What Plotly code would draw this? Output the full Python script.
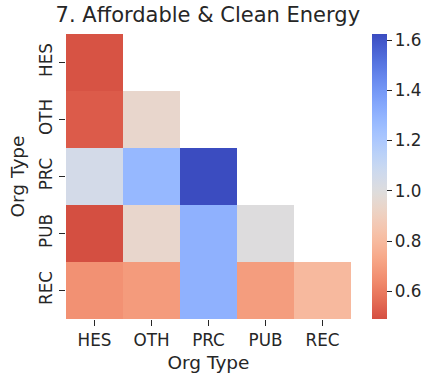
import numpy as np
import plotly.graph_objects as go

categories = ["HES", "OTH", "PRC", "PUB", "REC"]
values = [
    [0.50, None, None, None, None],
    [0.52, 0.944, None, None, None],
    [1.05, 1.28, 1.624, None, None],
    [0.49, 0.945, 1.305, 1.00, None],
    [0.662, 0.69, 1.305, 0.697, 0.797],
]
title = "7. Affordable & Clean Energy"

# matplotlib coolwarm anchors
cw = [(59,76,192),(68,90,204),(77,104,215),(87,117,225),(98,130,234),(108,142,241),
      (119,154,247),(130,165,251),(141,176,254),(152,185,255),(163,194,255),(174,201,253),
      (184,208,249),(194,213,244),(204,217,238),(213,219,230),(221,221,221),(229,216,209),
      (236,211,197),(241,204,185),(245,196,173),(247,187,160),(247,177,148),(247,166,135),
      (244,154,123),(241,141,111),(236,127,99),(229,112,88),(222,96,77),(213,80,66),
      (203,62,56),(192,40,47),(180,4,38)]
cw = np.array(cw, dtype=float)
cw_r = cw[::-1]
pos = np.linspace(0, 1, len(cw_r))

def cmap(t):
    return [np.interp(t, pos, cw_r[:, i]) for i in range(3)]

flat = [v for row in values for v in row if v is not None]
vmin, vmax, center = min(flat), max(flat), 1.0
d = max(vmax - center, center - vmin)
vs = np.linspace(vmin, vmax, 51)
scale = []
for v in vs:
    t = (v - (center - d)) / (2 * d)
    r, g, b = cmap(t)
    scale.append([(v - vmin) / (vmax - vmin), f"rgb({int(round(r))},{int(round(g))},{int(round(b))})"])

TXT = "#262626"
FS = 16.8

fig = go.Figure(go.Heatmap(
    z=values, x=categories, y=categories,
    colorscale=scale, zmin=vmin, zmax=vmax,
    hoverongaps=False, xgap=0, ygap=0,
    colorbar=dict(
        x=1.0737, xanchor="left", xpad=0, y=0.5, yanchor="middle", ypad=0,
        len=1, lenmode="fraction", thickness=15, outlinewidth=0,
        tickvals=[0.6, 0.8, 1.0, 1.2, 1.4, 1.6], ticktext=["0.6", "0.8", "1.0", "1.2", "1.4", "1.6"],
        ticks="outside", ticklen=5, tickwidth=1.3, tickcolor=TXT,
        tickfont=dict(size=FS, color=TXT, family="DejaVu Sans"),
    ),
))

fig.update_layout(
    template="none",
    width=433, height=375,
    margin=dict(l=66, r=82, t=34, b=56, autoexpand=False),
    paper_bgcolor="white", plot_bgcolor="white",
    font=dict(family="DejaVu Sans", color=TXT),
    title=dict(text=title, x=0.48, xanchor="center", y=0.962, yanchor="middle",
               font=dict(size=21, color=TXT, family="DejaVu Sans")),
)
fig.update_xaxes(
    automargin=False,
    title=dict(text="Org Type", font=dict(size=18.5, color=TXT), standoff=6),
    tickfont=dict(size=FS, color=TXT), ticks="outside", ticklen=6, tickwidth=1.3, tickcolor=TXT,
    showgrid=False, zeroline=False, showline=False,
)
fig.update_yaxes(
    automargin=False,
    title=dict(text="Org Type", font=dict(size=18.5, color=TXT), standoff=6),
    tickfont=dict(size=FS, color=TXT), ticks="outside", ticklen=6, tickwidth=1.3, tickcolor=TXT,
    tickangle=-90, autorange="reversed",
    showgrid=False, zeroline=False, showline=False,
)

fig.write_html("out.html", config={"displayModeBar": False},
               post_script="document.body.style.margin='0';document.body.style.padding='0';")
